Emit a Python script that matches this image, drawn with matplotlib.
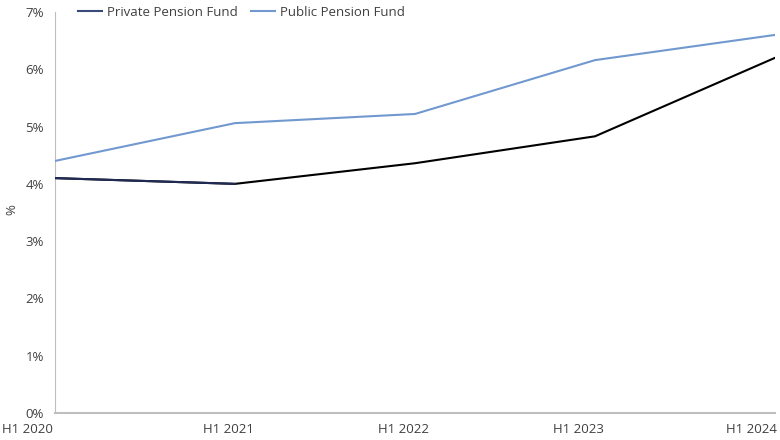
import matplotlib
matplotlib.use("Agg")
import matplotlib.pyplot as plt
from matplotlib.transforms import ScaledTranslation

periods = ["H1 2020", "H1 2021", "H1 2022", "H1 2023", "H1 2024"]
private = [4.10, 4.00, 4.36, 4.83, 6.20]
public = [4.40, 5.06, 5.22, 6.16, 6.60]
label_shift_px = [-28, -7, -12, -17, -24]

plt.rcParams['font.family'] = ['Open Sans', 'DejaVu Sans']

fig = plt.figure(figsize=(7.8, 4.4), dpi=100)
ax = fig.add_axes([55/780, 27/440, 720/780, 401/440])

x = list(range(len(periods)))
ax.plot(x, public, color="#7199cf", lw=1.5, label="Public Pension Fund", zorder=3)
ax.plot(x, private, color="#000000", lw=1.5, zorder=3)
ax.plot(x[:2], private[:2], color="#1f2a55", lw=1.5, zorder=4)
h_priv, = ax.plot([], [], color="#3a4a78", lw=1.5, label="Private Pension Fund")

ax.set_yticks(range(8))
ax.set_yticklabels([f"{i}%" for i in range(8)])
ax.set_xticks(x)
ax.set_xticklabels(periods)
ax.set_xlim(0, 4)
ax.set_ylim(0, 7)
ax.tick_params(axis='both', length=0, labelsize=9.5, labelcolor="#404040")
ax.tick_params(axis='x', pad=7)
ax.tick_params(axis='y', pad=8)
for lbl, dx in zip(ax.get_xticklabels(), label_shift_px):
    lbl.set_transform(lbl.get_transform() + ScaledTranslation(dx / 100, 0, fig.dpi_scale_trans))
for s in ["top", "right"]:
    ax.spines[s].set_visible(False)
ax.spines["left"].set_color("#bfbfbf")
ax.spines["bottom"].set_color("#bfbfbf")
ax.spines["bottom"].set_linewidth(1.5)
fig.text(12/780, 1 - 210/440, "%", rotation=90, ha="center", va="center",
         fontsize=9.5, color="#404040")

handles = [h_priv, ax.lines[0]]
fig.legend(handles, ["Private Pension Fund", "Public Pension Fund"], loc="center left",
           bbox_to_anchor=(66/780, 1 - 12/440), ncol=2, frameon=False, fontsize=9.5,
           handlelength=1.8, columnspacing=1.0, handletextpad=0.4,
           labelcolor="#404040")

fig.savefig("out.png", dpi=100)
